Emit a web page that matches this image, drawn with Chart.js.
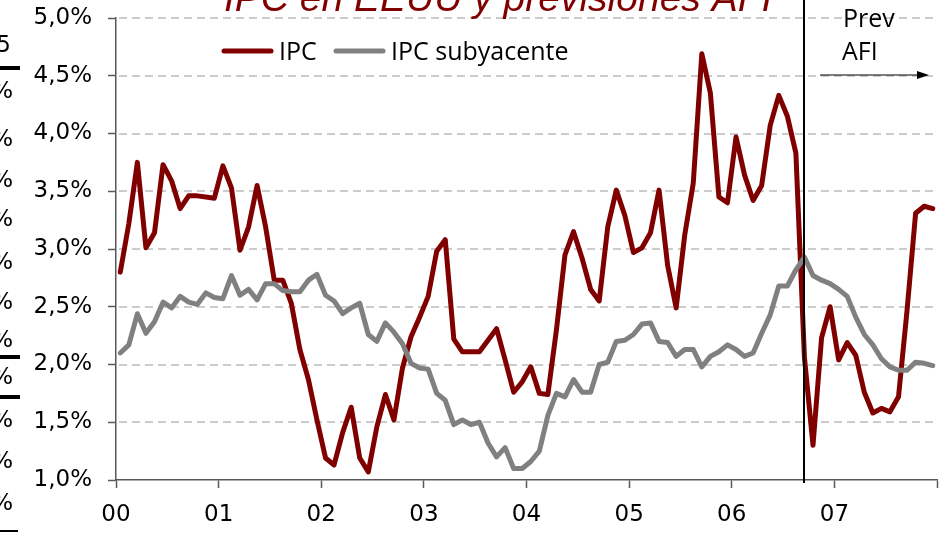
<!DOCTYPE html>
<html>
<head>
<meta charset="utf-8">
<script src="https://cdn.jsdelivr.net/npm/chart.js@4"></script>
<style>
  html, body { margin: 0; padding: 0; background: #fff; }
  #wrap { position: relative; width: 945px; height: 535px; overflow: hidden; }
  canvas { position: absolute; left: 0; top: 0; }
</style>
</head>
<body>
<div id="wrap"><canvas id="ipcChart" width="945" height="535"></canvas></div>
<script>
// ========== DATA ==========
// monthly, Jan 2000 .. Dec 2007 (y/y %)
const yearLabels = ["00", "01", "02", "03", "04", "05", "06", "07"];
const yTicks = [1.0, 1.5, 2.0, 2.5, 3.0, 3.5, 4.0, 4.5, 5.0];

const ipc = [
  2.80, 3.22, 3.75, 3.01, 3.14, 3.73, 3.59, 3.35, 3.46, 3.46, 3.45, 3.44,
  3.72, 3.53, 2.99, 3.19, 3.55, 3.19, 2.73, 2.73, 2.53, 2.13, 1.87, 1.52,
  1.19, 1.13, 1.41, 1.63, 1.19, 1.07, 1.46, 1.74, 1.52, 1.97, 2.24, 2.41,
  2.59, 2.98, 3.08, 2.22, 2.11, 2.11, 2.11, 2.21, 2.31, 2.04, 1.76, 1.85,
  1.98, 1.75, 1.74, 2.30, 2.95, 3.15, 2.92, 2.65, 2.55, 3.19, 3.51, 3.29,
  2.97, 3.01, 3.14, 3.51, 2.86, 2.49, 3.12, 3.57, 4.69, 4.35, 3.45, 3.40,
  3.97, 3.64, 3.42, 3.55, 4.07, 4.33, 4.15, 3.83, 2.06, 1.30, 2.23, 2.50,
  2.04, 2.19, 2.08, 1.76, 1.58, 1.62, 1.59, 1.72, 2.47, 3.31, 3.37, 3.35,
];

const ipcSub = [
  2.10, 2.17, 2.44, 2.27, 2.37, 2.54, 2.49, 2.59, 2.54, 2.52, 2.62, 2.58,
  2.57, 2.77, 2.60, 2.65, 2.56, 2.70, 2.70, 2.64, 2.63, 2.63, 2.73, 2.78,
  2.60, 2.55, 2.44, 2.49, 2.53, 2.26, 2.20, 2.36, 2.28, 2.18, 2.01, 1.97,
  1.96, 1.75, 1.69, 1.48, 1.52, 1.48, 1.50, 1.32, 1.20, 1.28, 1.10, 1.10,
  1.16, 1.25, 1.56, 1.75, 1.72, 1.87, 1.76, 1.76, 2.00, 2.02, 2.20, 2.21,
  2.26, 2.35, 2.36, 2.20, 2.19, 2.07, 2.13, 2.13, 1.98, 2.07, 2.11, 2.17,
  2.13, 2.07, 2.10, 2.27, 2.43, 2.68, 2.68, 2.82, 2.93, 2.77, 2.73, 2.70,
  2.65, 2.59, 2.41, 2.26, 2.17, 2.05, 1.98, 1.95, 1.95, 2.02, 2.01, 1.99,
];

// month index where the AFI forecast starts (Sep 2006)
const forecastStart = 80;

const RED = "#800000";
const GRAY = "#808080";
const AXIS = "#595959";

const toPoints = (arr) => arr.map((v, i) => ({ x: i + 0.5, y: v }));

// ========== DASHED GRID ==========
const dashedGrid = {
  id: "dashedGrid",
  beforeDatasetsDraw(chart) {
    const { ctx, chartArea, scales } = chart;
    ctx.save();
    ctx.strokeStyle = "#cccccc";
    ctx.lineWidth = 2;
    ctx.setLineDash([8, 5]);
    yTicks.slice(1).forEach((v) => {
      const y = Math.round(scales.y.getPixelForValue(v));
      ctx.beginPath();
      ctx.moveTo(chartArea.left + 3, y);
      ctx.lineTo(chartArea.right, y);
      ctx.stroke();
    });
    ctx.restore();
  },
};

// ========== DECORATION (title, legend, forecast marker) ==========
const decor = {
  id: "decor",
  afterDatasetsDraw(chart) {
    const { ctx, chartArea, scales } = chart;
    ctx.save();

    // forecast divider
    const xv = Math.round(scales.x.getPixelForValue(forecastStart + 0.5));
    ctx.strokeStyle = "#000";
    ctx.lineWidth = 2;
    ctx.beginPath();
    ctx.moveTo(xv, 0);
    ctx.lineTo(xv, chartArea.bottom + 3);
    ctx.stroke();

    // arrow
    const ay = 75, ax0 = xv + 16, ax1 = chartArea.right - 8;
    ctx.lineWidth = 1.2;
    ctx.beginPath();
    ctx.moveTo(ax0, ay);
    ctx.lineTo(ax1 - 8, ay);
    ctx.stroke();
    ctx.fillStyle = "#000";
    ctx.beginPath();
    ctx.moveTo(ax1, ay);
    ctx.lineTo(ax1 - 12, ay - 4);
    ctx.lineTo(ax1 - 12, ay + 4);
    ctx.closePath();
    ctx.fill();

    ctx.font = "25px 'Open Sans'";
    ctx.textAlign = "left";
    ctx.textBaseline = "alphabetic";
    ctx.fillText("Prev", xv + 39, 27);
    ctx.fillText("AFI", xv + 38, 60);

    // legend
    ctx.lineCap = "round";
    ctx.lineWidth = 5;
    ctx.strokeStyle = RED;
    ctx.beginPath(); ctx.moveTo(224, 51); ctx.lineTo(271, 51); ctx.stroke();
    ctx.strokeStyle = GRAY;
    ctx.beginPath(); ctx.moveTo(336, 51); ctx.lineTo(383, 51); ctx.stroke();
    ctx.fillStyle = "#000";
    ctx.fillText("IPC", 279, 60);
    ctx.fillText("IPC subyacente", 391, 60);

    // title (cut off by the top edge)
    ctx.fillStyle = RED;
    ctx.font = "italic 39px 'Liberation Sans'";
    ctx.fillText("IPC en EEUU y previsiones AFI", 224, 11);

    // fragments of the neighbouring table on the left edge
    ctx.fillStyle = "#000";
    ctx.font = "23px 'DejaVu Sans'";
    ctx.textAlign = "right";
    ctx.textBaseline = "middle";
    ctx.fillText("5", 11, 46);
    [92, 140, 181, 220, 263, 303, 341, 378, 421, 462, 504].forEach((y) => ctx.fillText("%", 13, y));
    ctx.fillRect(0, 66, 20, 4);
    ctx.fillRect(0, 355, 20, 4);
    ctx.fillRect(0, 395, 20, 4);
    ctx.fillRect(0, 530, 18, 2);

    ctx.restore();
  },
};

// ========== CHART ==========
new Chart(document.getElementById("ipcChart"), {
  type: "line",
  data: {
    datasets: [
      {
        label: "IPC subyacente",
        data: toPoints(ipcSub),
        borderColor: GRAY,
        borderWidth: 5,
        order: 0,
      },
      {
        label: "IPC",
        data: toPoints(ipc),
        borderColor: RED,
        borderWidth: 5,
        order: 1,
      },
    ],
  },
  options: {
    responsive: false,
    animation: false,
    devicePixelRatio: 1,
    layout: { padding: { left: 0, right: 8, top: 18, bottom: 0 } },
    elements: {
      point: { radius: 0 },
      line: { tension: 0, borderJoinStyle: "round", borderCapStyle: "round" },
    },
    plugins: { legend: { display: false }, tooltip: { enabled: false } },
    scales: {
      x: {
        type: "linear",
        min: 0,
        max: yearLabels.length * 12,
        afterFit: (s) => { s.height = 55; s.paddingLeft = 0; s.paddingRight = 0; },
        afterBuildTicks: (s) => {
          s.ticks = [];
          for (let v = 0; v <= yearLabels.length * 12; v += 12) s.ticks.push({ value: v });
        },
        ticks: {
          autoSkip: false,
          maxRotation: 0,
          padding: 13,
          color: "#000",
          font: { family: "DejaVu Sans", size: 23 },
          callback: (v) => yearLabels[v / 12] || "",
        },
        grid: { drawOnChartArea: false, tickLength: 8, tickColor: AXIS, tickWidth: 1.5 },
        border: { color: AXIS, width: 1.5 },
      },
      y: {
        min: yTicks[0],
        max: yTicks[yTicks.length - 1],
        afterFit: (s) => { s.width = 116; s.paddingTop = 0; s.paddingBottom = 0; },
        afterBuildTicks: (s) => { s.ticks = yTicks.map((v) => ({ value: v })); },
        ticks: {
          padding: 16,
          color: "#000",
          font: { family: "DejaVu Sans", size: 23 },
          callback: (v) => v.toFixed(1).replace(".", ",") + "%",
        },
        grid: { drawOnChartArea: false, tickLength: 8, tickColor: AXIS, tickWidth: 1.5 },
        border: { color: AXIS, width: 1.5 },
      },
    },
  },
  plugins: [dashedGrid, decor],
});
</script>
</body>
</html>
